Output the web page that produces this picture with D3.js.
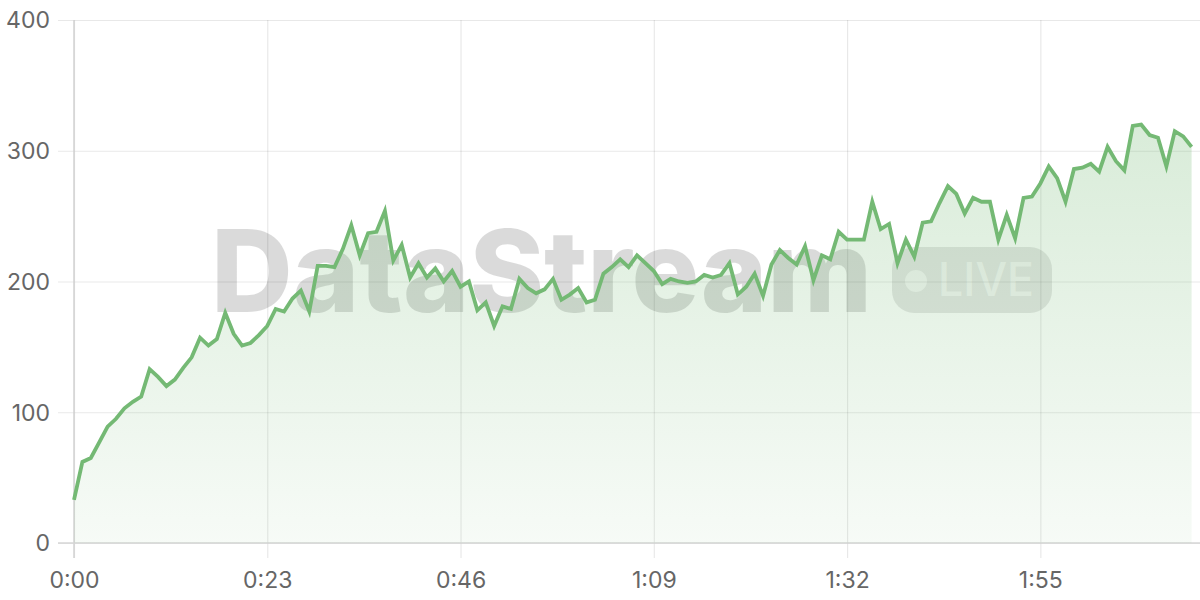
<!DOCTYPE html>
<html>
<head>
<meta charset="utf-8">
<script src="https://cdn.jsdelivr.net/npm/d3@7"></script>
<style>
  html, body { margin: 0; padding: 0; background: #ffffff; }
  svg { display: block; font-family: Inter, "Noto Sans", sans-serif; }
</style>
</head>
<body>
<svg id="chart" width="1200" height="600"></svg>
<script>
// values per second (t = index in seconds)
const values = [
  33, 62, 65, 77, 89, 95, 103, 108, 112, 133,
  127, 120, 125, 134, 142, 157, 151, 156, 176, 160,
  151, 153, 159, 166, 179, 177, 187, 193, 177, 212,
  212, 211, 225, 243, 220, 237, 238, 254, 216, 228,
  203, 214, 203, 210, 200, 208, 196, 200, 178, 184,
  166, 181, 179, 202, 195, 191, 194, 202, 186, 190,
  195, 184, 186, 206, 211, 217, 211, 220, 214, 208,
  198, 202, 200, 199, 200, 205, 203, 205, 214, 190,
  196, 206, 189, 213, 224, 218, 213, 227, 201, 220,
  217, 238, 232, 232, 232, 261, 240, 244, 214, 232,
  219, 245, 246, 260, 273, 267, 252, 264, 261, 261,
  232, 251, 233, 264, 265, 275, 288, 279, 261, 286,
  287, 290, 284, 303, 292, 285, 319, 320, 312, 310,
  288, 315, 311, 303
];
const xTickValues = [0, 23, 46, 69, 92, 115];
const xTickLabels = ["0:00", "0:23", "0:46", "1:09", "1:32", "1:55"];
const yTickValues = [0, 100, 200, 300, 400];
const timeDomain = [0, 134];
const valueDomain = [0, 400];
const watermarkText = "DataStream";
const badgeText = "LIVE";

const svg = d3.select("#chart");
const W = 1200, H = 600;
const m = { left: 74, right: 0, top: 20, bottom: 57 };
const x = d3.scaleLinear().domain(timeDomain).range([m.left, W - m.right]);
const y = d3.scaleLinear().domain(valueDomain).range([H - m.bottom, m.top]);
const plotW = W - m.right - m.left;
const plotH = (H - m.bottom) - m.top;

// defs
const defs = svg.append("defs");
const grad = defs.append("linearGradient")
  .attr("id", "areaGrad").attr("gradientUnits", "userSpaceOnUse")
  .attr("x1", 0).attr("x2", 0).attr("y1", y(330)).attr("y2", y(0));
grad.append("stop").attr("offset", 0).attr("stop-color", "#74b974").attr("stop-opacity", 0.28);
grad.append("stop").attr("offset", 1).attr("stop-color", "#74b974").attr("stop-opacity", 0.06);

// watermark (beneath grid)
const wm = svg.append("g");
wm.append("text")
  .attr("x", 211).attr("y", 312)
  .attr("textLength", 661).attr("lengthAdjust", "spacingAndGlyphs")
  .attr("font-size", 114).attr("font-weight", 800)
  .attr("fill", "rgba(0,0,0,0.145)")
  .text(watermarkText);
wm.append("rect")
  .attr("x", 892).attr("y", 247).attr("width", 160).attr("height", 66)
  .attr("rx", 22).attr("fill", "rgba(0,0,0,0.1)");
wm.append("circle")
  .attr("cx", 916).attr("cy", 281).attr("r", 11)
  .attr("fill", "rgba(255,255,255,0.6)");
wm.append("text")
  .attr("x", 938).attr("y", 296)
  .attr("textLength", 96).attr("lengthAdjust", "spacingAndGlyphs")
  .attr("font-size", 46).attr("font-weight", 500)
  .attr("fill", "rgba(255,255,255,0.6)")
  .text(badgeText);

// Y axis with gridlines
const yAxis = svg.append("g")
  .attr("transform", `translate(${m.left},0)`)
  .call(d3.axisLeft(y).tickValues(yTickValues).tickSize(16).tickPadding(8));
yAxis.select(".domain").remove();
yAxis.selectAll(".tick line")
  .attr("x1", -16).attr("x2", plotW)
  .attr("stroke", "rgba(0,0,0,0.09)").attr("stroke-width", 1.2);
yAxis.selectAll(".tick text")
  .attr("fill", "#666").style("font-size", "23px").attr("dy", "0.34em");

// X axis with gridlines
const xAxis = svg.append("g")
  .attr("transform", `translate(0,${H - m.bottom})`)
  .call(d3.axisBottom(x).tickValues(xTickValues)
    .tickFormat((d, i) => xTickLabels[i]).tickSize(15).tickPadding(14));
xAxis.select(".domain").remove();
xAxis.selectAll(".tick line")
  .attr("y1", -plotH).attr("y2", 15)
  .attr("stroke", "rgba(0,0,0,0.09)").attr("stroke-width", 1.2);
xAxis.selectAll(".tick text")
  .attr("fill", "#666").style("font-size", "23px");
svg.selectAll(".tick text").attr("font-family", "Inter, 'Noto Sans', sans-serif");

// axis lines
svg.append("line")
  .attr("x1", m.left).attr("x2", m.left)
  .attr("y1", m.top).attr("y2", H - m.bottom + 15)
  .attr("stroke", "#d2d2d2").attr("stroke-width", 1.5);
svg.append("line")
  .attr("x1", m.left - 16).attr("x2", W - m.right)
  .attr("y1", y(0)).attr("y2", y(0))
  .attr("stroke", "#d6d6d6").attr("stroke-width", 1.5);

// area + line
const area = d3.area()
  .x((d, i) => x(i)).y0(y(0)).y1(d => y(d));
const line = d3.line()
  .x((d, i) => x(i)).y(d => y(d));

svg.append("path").datum(values)
  .attr("d", area).attr("fill", "url(#areaGrad)");
svg.append("path").datum(values)
  .attr("d", line).attr("fill", "none")
  .attr("stroke", "#74b974").attr("stroke-width", 3.8)
  .attr("stroke-linejoin", "miter").attr("stroke-linecap", "butt");
</script>
</body>
</html>
